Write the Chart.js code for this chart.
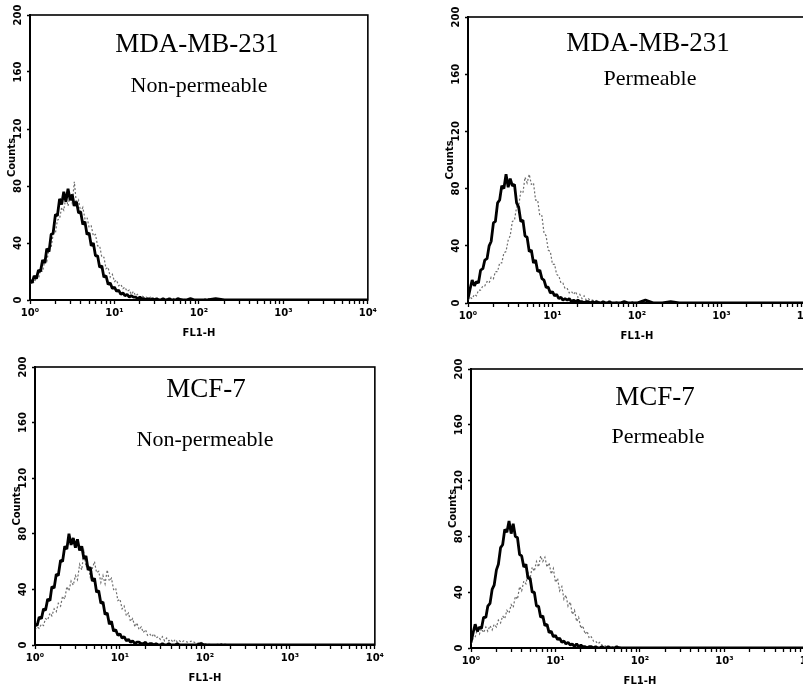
<!DOCTYPE html>
<html>
<head>
<meta charset="utf-8">
<title>FL1-H histograms</title>
<script src="https://cdn.jsdelivr.net/npm/chart.js@4.4.1/dist/chart.umd.min.js"></script>
<style>
  html, body { margin: 0; padding: 0; background: #fff; }
  body { position: relative; width: 803px; height: 691px; overflow: hidden; }
  .panel { position: absolute; }
  .panel canvas { display: block; }
  .label {
    position: absolute;
    transform: translate(-50%, -50%);
    font-family: 'Liberation Serif', 'Times New Roman', serif;
    color: #000;
    line-height: 1;
    white-space: nowrap;
  }
  .big { font-size: 27px; }
  .small { font-size: 22px; }
</style>
</head>
<body>

<div class="panel" style="left:0px;top:0px"><canvas id="p1" width="380" height="345"></canvas></div>
<div class="panel" style="left:438px;top:0px"><canvas id="p2" width="380" height="348"></canvas></div>
<div class="panel" style="left:5px;top:352px"><canvas id="p3" width="382" height="338"></canvas></div>
<div class="panel" style="left:441px;top:354px"><canvas id="p4" width="380" height="339"></canvas></div>

<div class="label big" style="left:197px;top:43px">MDA-MB-231</div>
<div class="label small" style="left:199px;top:85px">Non-permeable</div>
<div class="label big" style="left:648px;top:42px">MDA-MB-231</div>
<div class="label small" style="left:650px;top:78px">Permeable</div>
<div class="label big" style="left:206px;top:388px">MCF-7</div>
<div class="label small" style="left:205px;top:439px">Non-permeable</div>
<div class="label big" style="left:655px;top:396px">MCF-7</div>
<div class="label small" style="left:658px;top:436px">Permeable</div>

<script>
// ---- data: FL1 channel positions (log scale) and counts per panel ----
const fl1 = [
  1.00, 1.06, 1.12, 1.19, 1.26, 1.33, 1.41, 1.50, 1.58, 1.68,
  1.78, 1.88, 2.00, 2.11, 2.24, 2.37, 2.51, 2.66, 2.82, 2.99,
  3.16, 3.35, 3.55, 3.76, 3.98, 4.22, 4.47, 4.73, 5.01, 5.31,
  5.62, 5.96, 6.31, 6.68, 7.08, 7.50, 7.94, 8.41, 8.91, 9.44,
  10.0, 10.6, 11.2, 11.9, 12.6, 13.3, 14.1, 15.0, 15.8, 16.8,
  17.8, 18.8, 20.0, 21.1, 22.4, 23.7, 25.1, 26.6, 28.2, 29.9,
  31.6, 33.5, 35.5, 37.6, 39.8, 42.2, 44.7, 47.3, 50.1, 53.1,
  56.2,
  63.1, 70.8, 79.4, 89.1, 100, 126, 158, 200, 251, 316,
  398, 501, 631, 794, 1000, 1585, 2512, 3981, 6310, 10000
];

// MDA-MB-231, non-permeable
const mdaNonPermSolid = [
  14, 12, 17, 15, 21, 20, 28, 26, 36, 34,
  46, 47, 60, 59, 71, 67, 76, 69, 78, 70,
  74, 66, 69, 61, 62, 53, 55, 46, 47, 38,
  40, 31, 31, 23, 24, 16, 17, 11, 12, 8,
  9, 6, 7, 4, 5, 3, 4, 2, 3, 2,
  2, 1, 2, 1, 1, 0, 1, 0, 1, 0,
  1, 0, 0, 1, 0, 0, 1, 0, 0, 0,
  1,
  0, 0, 1, 0, 0, 0, 1, 0, 0, 0,
  0, 0, 0, 0, 0, 0, 0, 0, 0, 0
];
const mdaNonPermDotted = [
  11, 13, 12, 16, 15, 21, 20, 28, 27, 36,
  37, 46, 47, 56, 57, 65, 63, 72, 66, 74,
  68, 83, 67, 70, 62, 65, 57, 58, 51, 52,
  45, 46, 38, 38, 30, 30, 22, 23, 16, 18,
  13, 14, 10, 11, 8, 9, 6, 7, 4, 6,
  3, 4, 2, 3, 2, 2, 1, 2, 1, 1,
  0, 1, 0, 1, 0, 1, 0, 0, 1, 0,
  0,
  1, 0, 0, 0, 0, 1, 0, 0, 0, 0,
  0, 0, 0, 0, 0, 0, 0, 0, 0, 0
];

// MDA-MB-231, permeable
const mdaPermSolid = [
  3, 10, 16, 12, 15, 14, 23, 24, 30, 31,
  40, 43, 56, 57, 70, 72, 82, 80, 90, 81,
  87, 82, 83, 70, 67, 57, 58, 47, 46, 36,
  37, 28, 30, 22, 23, 17, 16, 11, 11, 7,
  8, 5, 6, 3, 4, 2, 3, 2, 3, 1,
  2, 1, 2, 1, 1, 0, 1, 1, 0, 1,
  0, 1, 0, 0, 1, 0, 0, 1, 0, 0,
  0,
  0, 1, 0, 0, 0, 2, 0, 0, 1, 0,
  0, 0, 0, 0, 0, 0, 0, 0, 0, 0
];
const mdaPermDotted = [
  2, 4, 3, 6, 5, 9, 9, 12, 12, 15,
  14, 18, 17, 22, 22, 28, 28, 35, 36, 44,
  47, 57, 58, 67, 68, 78, 77, 88, 84, 90,
  83, 84, 72, 72, 61, 61, 49, 47, 37, 36,
  27, 27, 20, 19, 14, 14, 10, 10, 7, 8,
  6, 8, 4, 6, 3, 5, 2, 3, 2, 2,
  1, 2, 1, 1, 0, 1, 0, 1, 0, 0,
  1,
  0, 0, 0, 1, 0, 0, 0, 0, 0, 0,
  0, 0, 0, 0, 0, 0, 0, 0, 0, 0
];

// MCF-7, non-permeable
const mcfNonPermSolid = [
  15, 14, 20, 19, 26, 25, 33, 32, 42, 41,
  51, 50, 61, 60, 71, 69, 80, 72, 77, 70,
  76, 68, 71, 62, 64, 54, 56, 46, 48, 38,
  39, 30, 31, 22, 23, 15, 17, 10, 11, 7,
  8, 5, 6, 3, 4, 2, 3, 1, 2, 2,
  1, 1, 2, 0, 1, 1, 0, 1, 0, 0,
  1, 0, 0, 1, 0, 0, 0, 1, 0, 0,
  0,
  0, 0, 0, 1, 0, 0, 0, 0, 0, 0,
  0, 0, 0, 0, 0, 0, 0, 0, 0, 0
];
const mcfNonPermDotted = [
  11, 13, 12, 15, 14, 19, 18, 23, 21, 26,
  24, 30, 28, 35, 33, 42, 39, 46, 43, 50,
  47, 58, 54, 67, 56, 58, 49, 55, 60, 52,
  53, 45, 50, 44, 54, 46, 48, 40, 41, 32,
  33, 26, 28, 21, 23, 17, 19, 13, 16, 11,
  13, 9, 11, 7, 8, 6, 8, 5, 6, 4,
  6, 3, 5, 3, 4, 2, 4, 2, 3, 2,
  3,
  2, 3, 1, 2, 1, 0, 1, 0, 0, 0,
  0, 0, 0, 0, 0, 0, 0, 0, 0, 0
];

// MCF-7, permeable
const mcfPermSolid = [
  4, 11, 17, 12, 15, 14, 22, 22, 30, 32,
  42, 45, 56, 60, 72, 74, 85, 83, 91, 82,
  89, 80, 79, 67, 66, 58, 60, 50, 50, 40,
  40, 30, 30, 22, 23, 16, 17, 11, 12, 8,
  9, 6, 7, 4, 5, 3, 4, 2, 3, 1,
  3, 1, 2, 1, 1, 0, 1, 1, 0, 1,
  0, 0, 1, 0, 0, 1, 0, 0, 0, 1,
  0,
  0, 0, 0, 0, 0, 0, 0, 0, 0, 0,
  0, 0, 0, 0, 0, 0, 0, 0, 0, 0
];
const mcfPermDotted = [
  3, 7, 8, 13, 10, 14, 11, 15, 12, 16,
  13, 17, 15, 20, 18, 23, 21, 27, 25, 31,
  29, 37, 35, 44, 41, 48, 46, 54, 50, 58,
  55, 62, 58, 66, 62, 65, 58, 61, 53, 57,
  47, 50, 41, 44, 35, 38, 30, 33, 24, 27,
  19, 22, 14, 16, 10, 12, 7, 8, 5, 5,
  3, 4, 2, 2, 1, 1, 0, 1, 0, 0,
  1,
  0, 0, 0, 0, 0, 0, 0, 0, 0, 0,
  0, 0, 0, 0, 0, 0, 0, 0, 0, 0
];

const decadeLabels = ['10\u2070', '10\u00b9', '10\u00b2', '10\u00b3', '10\u2074'];
const xTitle = 'FL1-H';
const yTitle = 'Counts';

// ---- layout of the four panels (canvas-relative paddings) ----
const panels = [
  { id: 'p1', padTop: 15, padRight: 10, solid: mdaNonPermSolid, dotted: mdaNonPermDotted },
  { id: 'p2', padTop: 17, padRight: 11, solid: mdaPermSolid, dotted: mdaPermDotted },
  { id: 'p3', padTop: 15, padRight: 10, solid: mcfNonPermSolid, dotted: mcfNonPermDotted },
  { id: 'p4', padTop: 15, padRight: 11, solid: mcfPermSolid, dotted: mcfPermDotted }
];

const tickFont = { family: "'DejaVu Sans', sans-serif", size: 10, weight: 'bold' };

// box round the plot area
const framePlugin = {
  id: 'frame',
  afterDraw(chart) {
    const { ctx, chartArea: a } = chart;
    ctx.save();
    ctx.strokeStyle = '#000';
    ctx.lineWidth = 1.6;
    ctx.strokeRect(a.left, a.top, a.right - a.left, a.bottom - a.top);
    ctx.restore();
  }
};

function decadeIndex(v) {
  const e = Math.log10(v);
  const r = Math.round(e);
  return Math.abs(e - r) < 1e-6 ? r : -1;
}

function makeChart(p) {
  return new Chart(document.getElementById(p.id), {
    type: 'line',
    data: {
      datasets: [
        {
          label: 'solid',
          data: fl1.map((x, i) => ({ x: x, y: p.solid[i] })),
          borderColor: '#000',
          borderWidth: 2.8,
          borderJoinStyle: 'bevel',
          pointRadius: 0,
          tension: 0
        },
        {
          label: 'dotted',
          data: fl1.map((x, i) => ({ x: x, y: p.dotted[i] })),
          borderColor: '#6e6e6e',
          borderWidth: 1.2,
          borderDash: [2, 2],
          pointRadius: 0,
          tension: 0
        }
      ]
    },
    options: {
      responsive: false,
      animation: false,
      events: [],
      layout: { padding: { top: p.padTop, right: p.padRight, left: 0, bottom: 0 } },
      plugins: { legend: { display: false }, tooltip: { enabled: false } },
      scales: {
        x: {
          type: 'logarithmic',
          min: 1,
          max: 10000,
          afterFit: (s) => { s.height = 45; },
          afterBuildTicks: (s) => {
            // keep 1..9 x 10^n only
            s.ticks = s.ticks.filter(t => {
              const m = t.value / Math.pow(10, Math.floor(Math.log10(t.value) + 1e-9));
              return Math.abs(m - 1.5) > 0.01;
            });
          },
          border: { display: true, color: '#000', width: 2 },
          grid: { drawOnChartArea: false, drawTicks: true, tickLength: 4, tickColor: '#000', tickWidth: 1.3 },
          ticks: {
            autoSkip: false,
            maxRotation: 0,
            minRotation: 0,
            padding: 3,
            color: '#000',
            font: tickFont,
            callback: (v) => {
              const d = decadeIndex(v);
              return d >= 0 ? decadeLabels[d] : '';
            }
          },
          title: {
            display: true,
            text: xTitle,
            color: '#000',
            font: tickFont,
            padding: { top: 0, bottom: 6 }
          }
        },
        y: {
          min: 0,
          max: 200,
          afterFit: (s) => { s.width = 30; },
          border: { display: true, color: '#000', width: 2 },
          grid: { drawOnChartArea: false, drawTicks: true, tickLength: 3, tickColor: '#000', tickWidth: 1.3 },
          ticks: {
            stepSize: 40,
            minRotation: 90,
            maxRotation: 90,
            crossAlign: 'center',
            padding: -2,
            color: '#000',
            font: tickFont
          },
          title: {
            display: true,
            text: yTitle,
            color: '#000',
            font: tickFont,
            padding: { top: 6, bottom: 0 }
          }
        }
      }
    },
    plugins: [framePlugin]
  });
}

panels.forEach(makeChart);
</script>
</body>
</html>
